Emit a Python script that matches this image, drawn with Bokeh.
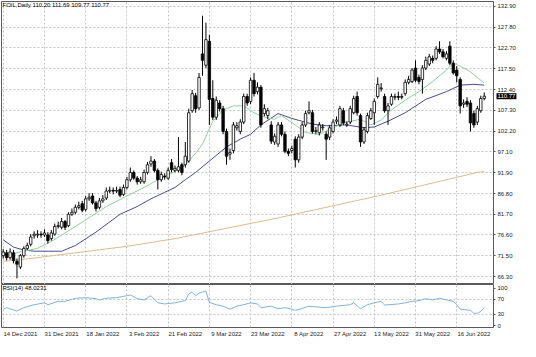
from bokeh.plotting import figure
from bokeh.layouts import column
from bokeh.models import Range1d, FixedTicker, PrintfTickFormatter, Label, Text
from bokeh.core.properties import value
from bokeh.embed import file_html
from bokeh.resources import INLINE

SYMBOL = "FOIL,Daily"
OPEN = [71.5, 72.2, 71.0, 72.2, 70.1, 68.7, 71.5, 73.3, 74.3, 76.4,
        76.6, 76.8, 76.6, 76.6, 75.7, 76.8, 78.7, 78.5, 79.9, 78.9,
        81.7, 82.2, 83.4, 84.3, 82.9, 85.5, 86.2, 84.5, 83.4, 85.0,
        85.7, 87.4, 87.6, 87.4, 87.8, 86.6, 88.3, 90.2, 92.0, 90.6,
        89.7, 89.7, 92.0, 94.1, 94.8, 92.5, 90.2, 91.1, 90.6, 94.4,
        92.5, 92.5, 93.9, 93.9, 94.8, 107.2, 110.9, 107.9, 121.2, 118.4,
        124.3, 110.2, 105.6, 109.1, 107.7, 102.1, 96.5, 97.4, 103.0, 102.1,
        104.4, 110.7, 109.5, 114.7, 111.9, 113.0, 106.5, 106.0, 103.7, 99.5,
        99.0, 103.7, 101.4, 97.2, 97.4, 100.2, 95.1, 100.7, 103.7, 106.7,
        106.7, 102.1, 101.8, 103.0, 101.4, 100.7, 102.1, 104.6, 103.7, 107.2,
        103.7, 104.4, 106.7, 110.7, 106.0, 99.5, 102.1, 105.3, 106.7, 110.7,
        112.6, 110.7, 107.2, 108.8, 110.5, 110.7, 110.5, 111.4, 114.2, 114.4,
        117.7, 115.4, 114.9, 117.7, 118.7, 120.1, 120.1, 122.4, 121.7, 120.1,
        123.1, 118.9, 117.2, 114.9, 108.8, 109.5, 109.1, 106.5, 104.4, 107.2,
        110.20]
HIGH = [73.1, 72.9, 73.3, 72.9, 70.8, 71.9, 73.8, 74.7, 76.8, 77.5,
        77.8, 77.5, 78.0, 77.3, 77.8, 79.4, 79.9, 80.8, 80.3, 82.2,
        83.1, 84.1, 84.8, 85.0, 86.2, 86.9, 86.9, 85.0, 85.7, 86.4,
        88.3, 88.5, 88.3, 88.5, 88.5, 89.0, 90.9, 93.2, 92.5, 91.1,
        90.9, 92.7, 94.6, 96.0, 95.3, 93.0, 92.2, 91.8, 93.2, 95.3,
        93.7, 100.7, 94.4, 99.5, 107.7, 112.3, 111.6, 116.5, 130.6, 128.9,
        125.9, 114.7, 110.7, 109.8, 108.4, 102.8, 97.9, 104.4, 104.4, 105.1,
        111.4, 111.4, 115.4, 116.5, 114.2, 113.5, 108.8, 107.9, 104.6, 101.6,
        104.4, 104.4, 102.1, 97.9, 98.6, 100.9, 101.4, 104.4, 107.2, 109.5,
        107.4, 103.2, 104.4, 103.9, 102.1, 103.7, 105.1, 105.8, 108.4, 107.9,
        104.6, 108.4, 110.9, 111.9, 106.5, 103.2, 106.7, 107.9, 110.2, 115.4,
        114.0, 111.4, 109.1, 111.4, 111.4, 111.9, 111.4, 114.9, 115.8, 117.7,
        119.6, 116.1, 118.4, 120.5, 121.2, 120.8, 123.1, 124.3, 122.4, 121.9,
        124.3, 119.6, 118.2, 115.4, 110.0, 110.5, 109.8, 107.2, 108.4, 110.9,
        111.69]
LOW = [70.8, 70.3, 70.5, 69.6, 65.9, 68.2, 71.0, 72.9, 73.8, 75.7,
       75.9, 75.9, 76.1, 74.5, 75.2, 76.4, 78.2, 78.0, 77.8, 78.5,
       81.3, 81.7, 82.9, 82.2, 82.4, 85.0, 84.1, 82.4, 82.9, 84.5,
       85.2, 86.9, 86.6, 86.9, 85.9, 86.2, 87.8, 89.7, 90.2, 89.0,
       89.2, 89.2, 91.5, 93.4, 92.0, 87.8, 89.7, 90.2, 90.2, 92.0,
       92.0, 92.0, 91.3, 93.2, 94.4, 106.7, 106.7, 107.4, 115.8, 117.7,
       103.7, 104.9, 104.9, 107.0, 101.4, 93.9, 95.1, 96.7, 102.3, 101.4,
       103.9, 108.4, 108.8, 110.7, 111.2, 103.0, 105.8, 105.1, 99.0, 98.8,
       98.3, 100.9, 96.7, 96.0, 96.7, 93.2, 94.4, 100.2, 103.2, 106.3,
       101.6, 101.4, 101.1, 102.3, 95.1, 100.0, 101.6, 103.9, 103.2, 103.7,
       103.2, 103.9, 106.3, 106.0, 98.3, 99.0, 101.6, 104.9, 103.7, 110.2,
       111.9, 106.7, 103.7, 108.4, 109.8, 109.8, 110.0, 110.9, 113.7, 114.0,
       114.2, 113.7, 111.4, 117.2, 118.2, 118.9, 119.6, 121.2, 120.1, 119.6,
       118.4, 116.1, 114.2, 106.5, 107.9, 108.1, 102.1, 103.0, 103.7, 106.7,
       109.77]
CLOSE = [72.4, 71.0, 72.4, 70.3, 69.4, 71.5, 73.3, 74.0, 76.1, 76.8,
         76.8, 76.6, 77.1, 75.2, 77.1, 78.7, 78.9, 79.9, 78.5, 81.7,
         82.2, 83.4, 83.8, 82.7, 85.5, 85.9, 84.5, 83.1, 85.0, 85.5,
         87.4, 87.6, 87.4, 87.6, 86.4, 88.3, 90.2, 92.0, 90.6, 89.7,
         90.2, 92.0, 93.9, 94.8, 92.5, 90.2, 91.5, 90.9, 92.5, 92.7,
         93.0, 93.4, 92.0, 96.0, 106.7, 111.4, 107.7, 115.4, 119.6, 124.7,
         110.0, 105.6, 109.8, 107.7, 102.1, 96.0, 96.9, 103.7, 103.5, 104.4,
         110.7, 109.1, 114.7, 111.4, 113.0, 103.7, 107.7, 107.2, 99.7, 100.9,
         103.7, 101.4, 97.2, 96.7, 97.9, 95.1, 100.7, 103.7, 106.5, 107.2,
         102.1, 102.3, 103.7, 103.2, 100.2, 103.0, 104.4, 104.9, 107.7, 104.2,
         103.9, 107.7, 110.2, 106.7, 99.5, 102.5, 106.0, 107.2, 109.5, 113.7,
         112.8, 107.2, 108.4, 110.7, 110.7, 110.5, 110.7, 114.2, 114.9, 117.2,
         114.7, 114.4, 117.7, 119.6, 120.5, 119.6, 122.4, 121.7, 120.5, 121.2,
         118.9, 116.5, 115.8, 108.4, 109.1, 108.8, 104.2, 103.7, 107.7, 110.2,
         110.77]

MA_FAST_BARS = [0, 6, 10, 14, 18, 24, 30, 36, 41, 45, 49, 53, 56, 58, 61, 64, 67, 70, 73, 76,
                79, 81, 85, 88, 92, 96, 100, 104, 107, 110, 113, 117, 121, 125, 129, 131, 133,
                136, 138, 140]
MA_FAST = [71.5, 72.6, 73.3, 75.0, 77.1, 80.3, 83.6, 86.2, 88.3, 90.2, 91.8, 93.9, 96.7, 99.0,
           104.6, 107.4, 108.4, 108.4, 106.7, 105.6, 105.1, 106.0, 103.7, 101.8, 101.4, 103.0,
           104.4, 105.1, 103.7, 104.9, 107.4, 109.8, 111.9, 114.4, 117.2, 118.9, 118.2, 116.8,
           115.4, 114.0]
MA_SLOW_BARS = [0, 3, 6, 9, 17, 21, 27, 34, 39, 43, 47, 50, 53, 56, 60, 65, 69, 72, 75, 80,
                84, 90, 94, 100, 105, 108, 112, 117, 123, 129, 133, 137, 140]
MA_SLOW = [75.4, 73.6, 72.9, 72.6, 72.6, 74.0, 77.3, 81.7, 83.6, 85.5, 87.1, 88.3, 90.2, 92.0,
           94.8, 98.3, 100.2, 101.4, 103.7, 106.5, 105.3, 103.9, 103.5, 103.7, 103.0, 103.2,
           104.6, 106.7, 110.0, 111.9, 113.5, 113.7, 113.5]
MA_200_BARS = [0, 5, 36, 50, 80, 110, 138, 140]
MA_200 = [70.1, 70.5, 73.8, 75.7, 80.8, 86.4, 92.0, 92.2]

RSI_BARS = [0, 1, 4, 6, 9, 12, 13, 16, 18, 21, 24, 27, 28, 30, 33, 35, 37, 39, 41, 43,
            45, 47, 50, 52, 53, 54, 55, 56, 57, 58, 59, 60, 62, 64, 66, 68, 70, 72, 74, 75,
            78, 80, 82, 84, 85, 87, 89, 91, 94, 97, 99, 101, 102, 104, 106, 108, 110, 111, 115, 117,
            119, 121, 123, 125, 127, 129, 131, 132, 133, 136, 137, 138, 139, 140]
RSI = [44, 48, 39, 48, 56, 61, 56, 65, 65, 73, 75, 72, 69, 73, 75, 78, 82, 72, 69, 80,
       61, 58, 61, 65, 67, 85, 90, 80, 87, 90, 92, 62, 56, 52, 44, 52, 56, 61, 58, 48,
       52, 45, 48, 44, 41, 46, 52, 50, 48, 52, 54, 56, 61, 45, 56, 61, 65, 55, 58, 61,
       65, 67, 72, 69, 73, 69, 65, 56, 44, 41, 33, 33, 38, 48.0231]
RSI_PERIOD = 14

DATE_TICKS = [0, 12, 24, 36, 48, 60, 72, 84, 96, 108, 120, 132]
DATE_LABELS = ["14 Dec 2021", "31 Dec 2021", "18 Jan 2022", "3 Feb 2022", "21 Feb 2022",
               "9 Mar 2022", "23 Mar 2022", "8 Apr 2022", "27 Apr 2022", "13 May 2022",
               "31 May 2022", "16 Jun 2022"]
PRICE_TICKS = [66.30, 71.50, 76.60, 81.70, 86.80, 91.90, 97.10, 102.20, 107.30, 112.40,
               117.50, 122.70, 127.80, 132.90]
RSI_TICKS = [0, 30, 70, 100]
RSI_LEVELS = [30, 70]

FONT = "Liberation Sans"
FS = "6px"
GRID = "#c4c4c4"
OUTLINE = "#5a5a5a"
LABEL_SHIFT = 5
FRAME_W = 492
X_START, X_END = -0.5, 142.7

bars = list(range(len(CLOSE)))
x_range = Range1d(X_START, X_END)


def style_right_axis(a):
    a.axis_line_color = None
    a.major_tick_out = 2
    a.major_tick_in = 0
    a.major_tick_line_color = OUTLINE
    a.minor_tick_line_color = None
    a.major_label_standoff = 2
    a.major_label_text_font = FONT
    a.major_label_text_font_size = FS
    a.major_label_text_color = "#222222"


def style_grids(fig):
    for g in (fig.xgrid, fig.ygrid):
        g.grid_line_color = GRID
        g.grid_line_dash = "2 2"


# ---------------- price panel ----------------
p = figure(frame_width=FRAME_W, frame_height=283, x_range=x_range, y_range=Range1d(64.4, 134.1),
           x_axis_location=None, y_axis_location="right", toolbar_location=None,
           output_backend="svg", min_border_left=1, min_border_top=1, min_border_bottom=0,
           min_border_right=0)
p.outline_line_color = OUTLINE
p.xgrid.ticker = FixedTicker(ticks=DATE_TICKS)
p.ygrid.ticker = FixedTicker(ticks=PRICE_TICKS)
style_grids(p)
ax = p.yaxis[0]
ax.ticker = FixedTicker(ticks=PRICE_TICKS)
ax.formatter = PrintfTickFormatter(format="%.2f")
style_right_axis(ax)

p.line(MA_200_BARS, MA_200, color="#dcbb90", line_width=1)
p.line(MA_SLOW_BARS, MA_SLOW, color="#4b4b8f", line_width=1)
p.line(MA_FAST_BARS, MA_FAST, color="#8fcf9f", line_width=1)

p.segment(bars, HIGH, bars, LOW, color="black", line_width=1)
body_fill = ["white" if c >= o else "black" for o, c in zip(OPEN, CLOSE)]
body_top = [max(o, c) for o, c in zip(OPEN, CLOSE)]
body_bot = [min(o, c) for o, c in zip(OPEN, CLOSE)]
p.vbar(x=bars, width=0.72, top=body_top, bottom=body_bot, fill_color=body_fill,
       line_color="black", line_width=0.8)

title = "%s  %.2f %.2f %.2f %.2f" % (SYMBOL, OPEN[-1], HIGH[-1], LOW[-1], CLOSE[-1])
p.add_layout(Label(x=-0.2, y=133.9, text=title, text_baseline="top", text_font=FONT,
                   text_font_size=FS, text_color="black"))

# current price tag on the price scale (overlay level so it can sit over the axis)
tag_style = dict(x_offset=3, text_baseline="middle", text_align="left",
                 text_font=value(FONT), text_font_size=FS, level="overlay")
if "background_fill_color" in Text.properties():
    p.text(x=[X_END], y=[CLOSE[-1]], text=["%.2f" % CLOSE[-1]], text_color="white",
           background_fill_color="black", padding=1, **tag_style)
else:
    p.text(x=[X_END], y=[CLOSE[-1]], text=["%.2f" % CLOSE[-1]], text_color="black",
           **tag_style)

# ---------------- RSI panel ----------------
r = figure(frame_width=FRAME_W, frame_height=43, x_range=x_range, y_range=Range1d(-5, 110),
           y_axis_location="right", toolbar_location=None, output_backend="svg",
           min_border_left=1, min_border_top=0, min_border_bottom=0, min_border_right=0)
r.outline_line_color = OUTLINE
r.xgrid.ticker = FixedTicker(ticks=DATE_TICKS)
r.ygrid.ticker = FixedTicker(ticks=RSI_LEVELS)
style_grids(r)
ry = r.yaxis[0]
ry.ticker = FixedTicker(ticks=RSI_TICKS)
style_right_axis(ry)
rx = r.xaxis[0]
label_ticks = [t + LABEL_SHIFT for t in DATE_TICKS]
rx.ticker = FixedTicker(ticks=label_ticks)
rx.major_label_overrides = {t: lab for t, lab in zip(label_ticks, DATE_LABELS)}
rx.axis_line_color = None
rx.major_tick_line_color = None
rx.minor_tick_line_color = None
rx.major_tick_out = 0
rx.major_label_standoff = 3
rx.major_label_text_font = FONT
rx.major_label_text_font_size = FS
rx.major_label_text_color = "#222222"

r.line(RSI_BARS, RSI, color="#7fb3e0", line_width=1)
r.add_layout(Label(x=-0.2, y=108, text="RSI(%d) %.4f" % (RSI_PERIOD, RSI[-1]),
                   text_baseline="top", text_font=FONT, text_font_size=FS, text_color="black"))

layout = column(p, r, spacing=0)
open("out.html", "w").write(file_html(layout, INLINE))
